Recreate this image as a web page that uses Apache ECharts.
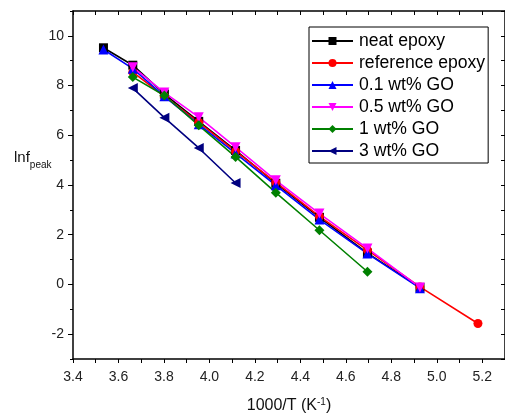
<!DOCTYPE html>
<html>
<head>
	<meta charset="UTF-8">
	<title>lnf peak vs 1000/T</title>
	<script src="https://cdn.jsdelivr.net/npm/echarts@6/dist/echarts.min.js"></script>
	<style>
		html, body { margin: 0; padding: 0; background: #fff; }
		#chart { width: 505px; height: 417px; }
	</style>
</head>
<body>
	<div id="chart"></div>
	<script type="text/javascript">
		// 1000/T 的位置 (T = 283 ... 193 K)
		var xVals = [3.534, 3.663, 3.802, 3.953, 4.115, 4.292, 4.484, 4.695, 4.926, 5.181];

		// 各样品的 lnf_peak，null 表示没有该点
		var neatEpoxy = [9.52, 8.82, 7.66, 6.56, 5.39, 4.07, 2.70, 1.26, -0.12, null];
		var refEpoxy  = [null, 8.54, 7.57, 6.52, 5.35, 4.11, 2.74, 1.38, -0.10, -1.57];
		var go01      = [9.45, 8.68, 7.57, 6.44, 5.27, 3.99, 2.61, 1.24, -0.15, null];
		var go05      = [null, 8.74, 7.72, 6.73, 5.52, 4.19, 2.85, 1.45, -0.12, null];
		var go1       = [null, 8.34, 7.60, 6.40, 5.13, 3.69, 2.18, 0.51, null, null];
		var go3       = [null, 7.90, 6.71, 5.49, 4.08, null, null, null, null, null];

		var seriesNames = ['neat epoxy', 'reference epoxy', '0.1 wt% GO', '0.5 wt% GO', '1 wt% GO', '3 wt% GO'];
		var seriesColors = ['#000000', '#ff0000', '#0000ff', '#ff00ff', '#008000', '#000080'];
		var seriesSymbols = ['rect', 'circle', 'triangle', 'triangle', 'diamond', 'triangle'];
		var symbolRotates = [0, 0, 0, 180, 0, 90];
		var symbolSizes = [9, 9, 10, 10, 10, 10];

		function pairs(ys) {
			var out = [];
			for (var i = 0; i < xVals.length; i++) {
				if (ys[i] !== null) {
					out.push([xVals[i], ys[i]]);
				}
			}
			return out;
		}

		var allY = [neatEpoxy, refEpoxy, go01, go05, go1, go3];
		var series = [];
		for (var k = 0; k < allY.length; k++) {
			series.push({
				name: seriesNames[k],
				type: 'line',
				xAxisIndex: 0,
				yAxisIndex: 0,
				data: pairs(allY[k]),
				symbol: seriesSymbols[k],
				symbolRotate: symbolRotates[k],
				symbolSize: symbolSizes[k],
				showAllSymbol: true,
				lineStyle: { color: seriesColors[k], width: 1.6 },
				itemStyle: { color: seriesColors[k] },
				animation: false
			});
		}

		var fontName = 'Liberation Sans';
		var chart = echarts.init(document.getElementById('chart'), null, { renderer: 'canvas' });
		var option = {
			animation: false,
			textStyle: { fontFamily: fontName },
			grid: { left: 73, right: 0, top: 11, bottom: 58, containLabel: false, outerBoundsMode: 'none' },
			legend: {
				orient: 'vertical',
				left: 309,
				top: 27,
				padding: [5, 3, 3, 2],
				itemGap: 4,
				itemWidth: 41,
				itemHeight: 10,
				borderColor: '#000',
				borderWidth: 1,
				backgroundColor: '#fff',
				textStyle: { fontFamily: fontName, fontSize: 17.6, color: '#000', lineHeight: 17, padding: [0, 0, 0, 1] },
				data: seriesNames
			},
			xAxis: [
				{
					type: 'value',
					position: 'bottom',
					min: 3.4,
					max: 5.3,
					interval: 0.1,
					name: '{a|1000/T (K}{s|-1}{a|)}',
					nameLocation: 'middle',
					nameGap: 38,
					nameTextStyle: {
						rich: {
							a: { fontFamily: fontName, fontSize: 16, color: '#111', lineHeight: 18 },
							s: { fontFamily: fontName, fontSize: 10, color: '#111', verticalAlign: 'top', lineHeight: 18, padding: [0, 0, 6, 0] }
						}
					},
					splitLine: { show: false },
					axisLine: { onZero: false, lineStyle: { color: '#000', width: 1.5 } },
					axisTick: { inside: false, length: 4, lineStyle: { color: '#000', width: 1 } },
					axisLabel: {
						margin: 11,
						fontSize: 14,
						color: '#222',
						fontFamily: fontName,
						formatter: function (v) {
							var t = Math.round(v * 10);
							return t % 2 === 0 ? (t / 10).toFixed(1) : '';
						}
					}
				},
				{
					type: 'value',
					position: 'top',
					min: 3.4,
					max: 5.3,
					interval: 0.1,
					splitLine: { show: false },
					axisLine: { onZero: false, lineStyle: { color: '#000', width: 1.5 } },
					axisTick: { inside: true, length: 4, lineStyle: { color: '#000' } },
					axisLabel: { show: false }
				}
			],
			yAxis: [
				{
					type: 'value',
					position: 'left',
					min: -3,
					max: 11,
					interval: 1,
					splitLine: { show: false },
					axisLine: { onZero: false, lineStyle: { color: '#000', width: 1.5 } },
					axisTick: { inside: false, length: 3, lineStyle: { color: '#000' } },
					axisLabel: {
						margin: 9,
						fontSize: 14,
						color: '#222',
						fontFamily: fontName,
						formatter: function (v) {
							return Math.round(v) % 2 === 0 ? String(Math.round(v)) : '';
						}
					}
				},
				{
					// 主刻度加长
					type: 'value',
					position: 'left',
					min: -3,
					max: 11,
					splitLine: { show: false },
					axisLine: { show: false },
					axisTick: { inside: false, length: 5, customValues: [-2, 0, 2, 4, 6, 8, 10], lineStyle: { color: '#000' } },
					axisLabel: { show: false, customValues: [-2, 0, 2, 4, 6, 8, 10] }
				},
				{
					type: 'value',
					position: 'right',
					min: -3,
					max: 11,
					interval: 1,
					splitLine: { show: false },
					axisLine: { onZero: false, lineStyle: { color: '#000', width: 1.5 } },
					axisTick: { inside: true, length: 4, lineStyle: { color: '#000' } },
					axisLabel: { show: false }
				}
			],
			graphic: [
				{
					type: 'text',
					left: 14,
					top: 150,
					style: {
						text: '{a|lnf}{b|peak}',
						rich: {
							a: { fontFamily: fontName, fontSize: 15, fill: '#111', lineHeight: 20, verticalAlign: 'top' },
							b: { fontFamily: fontName, fontSize: 10, fill: '#111', lineHeight: 20, verticalAlign: 'bottom', padding: [8, 0, 0, 0] }
						}
					}
				}
			],
			series: series
		};
		chart.setOption(option);
	</script>
</body>
</html>
